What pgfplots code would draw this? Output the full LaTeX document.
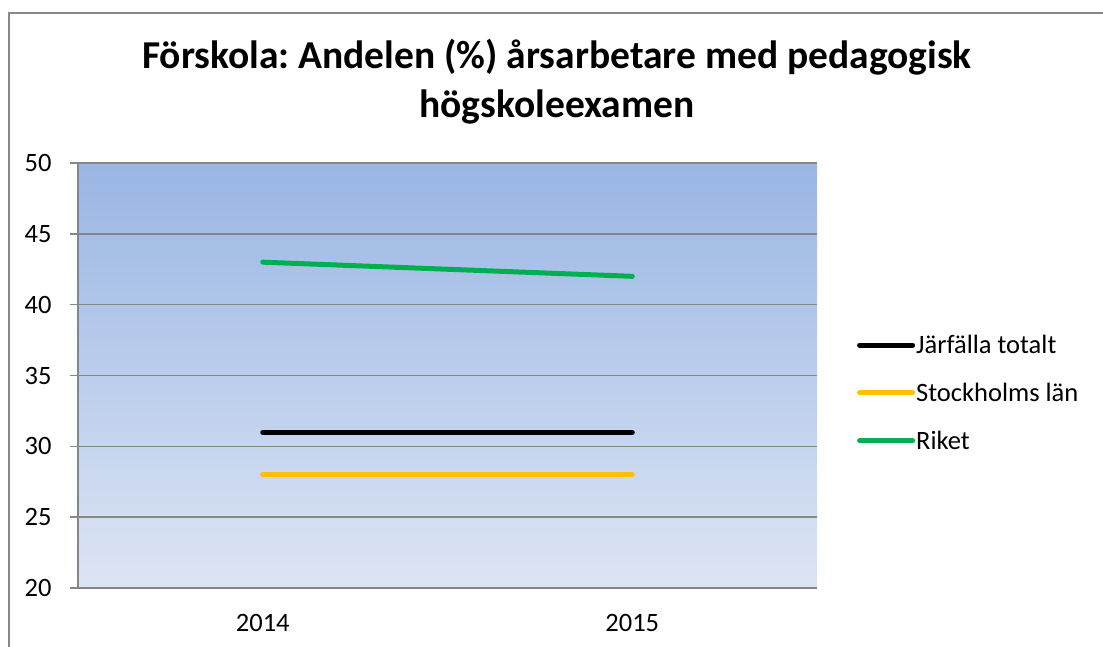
\documentclass[border=0pt]{standalone}
\usepackage{pgfplots}
\pgfplotsset{compat=1.18}
\usepackage{fontspec}
\setmainfont{Carlito}
\frenchspacing
\definecolor{gridgray}{RGB}{134,134,134}
\definecolor{framegray}{RGB}{137,137,137}
\definecolor{bgtop}{RGB}{153,182,228}
\definecolor{bgbot}{RGB}{221,229,244}
\definecolor{xlorange}{RGB}{255,192,0}
\definecolor{xlgreen}{RGB}{0,176,80}
\begin{document}
\begin{tikzpicture}
\useasboundingbox (0pt,0pt) rectangle (1103pt,646pt);
\draw[framegray,line width=1.5pt] (9pt,-20pt) -- (9pt,633pt) -- (1130pt,633pt);
\node[font=\fontsize{39.5}{49}\selectfont\bfseries,align=center,anchor=base] at (557pt,528pt) {Förskola: Andelen (\%) årsarbetare med pedagogisk\\högskoleexamen};
\begin{axis}[
  at={(78pt,58pt)}, anchor=south west,
  scale only axis, width=739pt, height=425pt,
  xmin=-0.5, xmax=1.5, ymin=20, ymax=50,
  axis x line*=bottom, axis y line*=left,
  axis line style={gridgray,line width=1.5pt},
  ytick={20,25,...,50},
  xtick={0,1}, xticklabels={2014,2015},
  x tick style={draw=none},
  extra x ticks={-0.5,0.5,1.5}, extra x tick labels={},
  extra x tick style={grid=none, tick style={gridgray,line width=1.5pt,draw=gridgray}},
  y tick style={gridgray,line width=1.5pt},
  tick align=outside, major tick length=8pt,
  ymajorgrids, major grid style={gridgray,line width=1.5pt},
  ticklabel style={font=\fontsize{26.5}{31}\selectfont},
  /pgf/number format/assume math mode=true,
  yticklabel style={xshift=-15pt},
  xticklabel style={yshift=-15pt},
  axis background/.style={shade,top color=bgtop,bottom color=bgbot},
  legend style={at={(1.054,0.459)},anchor=west,draw=none,fill=none,
    font=\fontsize{26.5}{31}\selectfont, row sep=26pt, inner sep=0pt,
    nodes={inner sep=1pt}},
  legend cell align=left,
  legend image code/.code={\draw[#1,line cap=round] (0pt,0pt) -- (53pt,0pt);},
]
\addplot[black,line width=5pt,line cap=round] coordinates {(0,31) (1,31)};
\addlegendentry{Järfälla totalt}
\addplot[xlorange,line width=5pt,line cap=round] coordinates {(0,28) (1,28)};
\addlegendentry{Stockholms län}
\addplot[xlgreen,line width=5pt,line cap=round] coordinates {(0,43) (1,42)};
\addlegendentry{Riket}
\end{axis}
\end{tikzpicture}
\end{document}
